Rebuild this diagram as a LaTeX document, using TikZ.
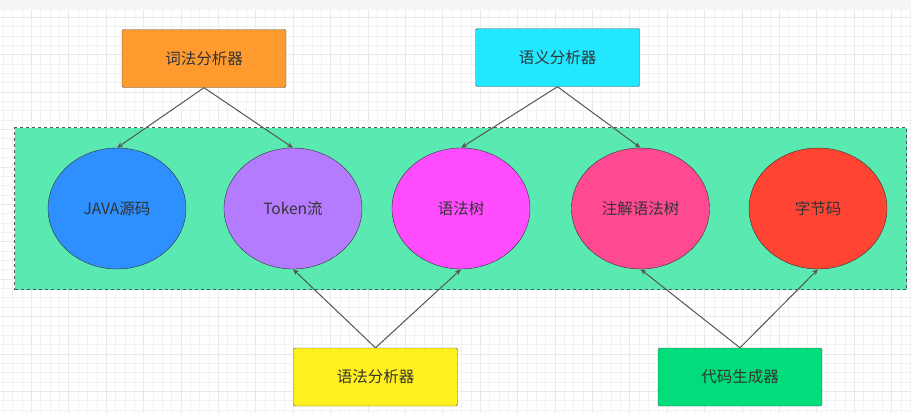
\documentclass[tikz,border=0pt]{standalone}
\usepackage{fontspec}
\usepackage{tikz}
\usetikzlibrary{shapes.geometric,arrows.meta}
\setmainfont{Noto Sans CJK SC}

\definecolor{gridc}{HTML}{F1F1F3}
\definecolor{gridmc}{HTML}{E9E9EC}
\definecolor{barc}{HTML}{F4F5F7}
\definecolor{textc}{HTML}{333333}
\definecolor{linec}{HTML}{555555}
\definecolor{panelc}{HTML}{5AE9B0}
\definecolor{orangec}{HTML}{FF9A2E}
\definecolor{cyanc}{HTML}{22E8FF}
\definecolor{yellowc}{HTML}{FFF01E}
\definecolor{greenc}{HTML}{00DD7A}
\definecolor{bluec}{HTML}{2E8FFF}
\definecolor{purplec}{HTML}{B47BFF}
\definecolor{magentac}{HTML}{FF4CFF}
\definecolor{pinkc}{HTML}{FF4A91}
\definecolor{redc}{HTML}{FF4433}

\tikzset{
  tool/.style={shape=rectangle,draw=linec,rounded corners=1.5pt,minimum width=164,minimum height=58,inner sep=0},
  stage/.style={shape=ellipse,draw=black!80,minimum width=138,minimum height=121,inner sep=0},
  flow/.style={-{Stealth[length=6pt,width=5pt]},draw=linec,line width=1pt}
}

\begin{document}
\begin{tikzpicture}[x=1pt,y=-1pt,font=\fontsize{15.5}{18}\selectfont,text=textc]

\useasboundingbox (0,0) rectangle (911,413);
\fill[white] (0,0) rectangle (911,413);

% background grid
\foreach \i in {0,...,97} {
  \pgfmathsetmacro{\gx}{3.4+9.35*\i}
  \pgfmathtruncatemacro{\gm}{mod(\i,4)}
  \ifnum\gm=3 \draw[gridmc,line width=0.8pt] (\gx,10) -- (\gx,413);
  \else \draw[gridc,line width=0.8pt] (\gx,10) -- (\gx,413); \fi
}
\foreach \j in {0,...,42} {
  \pgfmathsetmacro{\gy}{17.3+9.35*\j}
  \pgfmathtruncatemacro{\gm}{mod(\j,4)}
  \ifnum\gm=0 \draw[gridmc,line width=0.8pt] (0,\gy) -- (911,\gy);
  \else \draw[gridc,line width=0.8pt] (0,\gy) -- (911,\gy); \fi
}
\fill[barc] (0,0) rectangle (911,10);

% container
\node[shape=rectangle,draw=linec,dashed,line width=1pt,fill=panelc,minimum width=892,minimum height=162,inner sep=0] (P) at (460.5,208.5) {};

% stages
\node[stage,fill=bluec] (S1) at (117,208.5) {JAVA源码};
\node[stage,fill=purplec] (S2) at (293,208.5) {Token流};
\node[stage,fill=magentac] (S3) at (461,208.5) {语法树};
\node[stage,fill=pinkc] (S4) at (640.5,208.5) {注解语法树};
\node[stage,fill=redc] (S5) at (818,208.5) {字节码};

% tools
\node[tool,fill=orangec] (T1) at (204,58.5) {词法分析器};
\node[tool,fill=cyanc] (T2) at (557.5,57.5) {语义分析器};
\node[tool,fill=yellowc] (T3) at (375.5,377) {语法分析器};
\node[tool,fill=greenc] (T4) at (740,377) {代码生成器};

\path (T1.south) edge[flow] (S1.north);
\path (T1.south) edge[flow] (S2.north);
\path (T2.south) edge[flow] (S3.north);
\path (T2.south) edge[flow] (S4.north);
\path (T3.north) edge[flow] (S2.south);
\path (T3.north) edge[flow] (S3.south);
\path (T4.north) edge[flow] (S4.south);
\path (T4.north) edge[flow] (S5.south);

\end{tikzpicture}
\end{document}
